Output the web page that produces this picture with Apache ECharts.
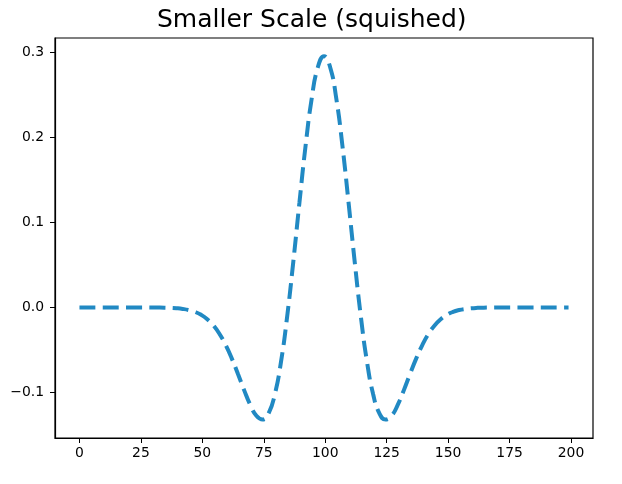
<!DOCTYPE html>
<html>
<head>
<meta charset="utf-8">
<script src="https://cdn.jsdelivr.net/npm/echarts@6/dist/echarts.min.js"></script>
<style>html,body{margin:0;padding:0;background:#fff}#c{width:622px;height:484px}</style>
</head>
<body>
<div id="c"></div>
<script>
const titleText = 'Smaller Scale (squished)';
const xs = [0, 2, 4.5, 7, 9.5, 12, 14.5, 17, 19.5, 22, 24.5, 27, 29.5, 32, 34.5, 37, 39.5, 42, 44.5, 47, 49.5, 52, 54.5, 57, 59.5, 62, 64.5, 67, 69.5, 72, 74.5, 77, 79.5, 82, 84.5, 87, 89.5, 92, 94.5, 97, 99.5, 102, 104.5, 107, 109.5, 112, 114.5, 117, 119.5, 122, 124.5, 127, 129.5, 132, 134.5, 137, 139.5, 142, 144.5, 147, 149.5, 152, 154.5, 157, 159.5, 162, 164.5, 167, 169.5, 172, 174.5, 177, 179.5, 182, 184.5, 187, 189.5, 192, 194.5, 197, 199];
const ys = [0, 0, 0, 0, 0, 0, 0, 0, 0, 0, 0, 0,
  -0.00006, -0.00013, -0.00026, -0.00051, -0.00096, -0.00176, -0.00310, -0.00529, -0.00871, -0.01384, -0.02119, -0.03124, -0.04427, -0.06021, -0.07837, -0.09728, -0.11465, -0.12739, -0.13184, -0.12437, -0.10218, -0.06403, -0.01091, 0.05352, 0.12312, 0.19000, 0.24566, 0.28257,
  0.2955,
  0.28257, 0.24566, 0.19000, 0.12312, 0.05352, -0.01091, -0.06403, -0.10218, -0.12437, -0.13184, -0.12739, -0.11465, -0.09728, -0.07837, -0.06021, -0.04427, -0.03124, -0.02119, -0.01384, -0.00871, -0.00529, -0.00310, -0.00176, -0.00096, -0.00051, -0.00026, -0.00013, -0.00006,
  0, 0, 0, 0, 0, 0, 0, 0, 0, 0, 0, 0];
const xTicks = [0, 25, 50, 75, 100, 125, 150, 175, 200];
const yTicks = [-0.1, 0.0, 0.1, 0.2, 0.3];

const font = 'DejaVu Sans';
const chart = echarts.init(document.getElementById('c'), null, {renderer: 'canvas'});
chart.setOption({
  animation: false,
  backgroundColor: '#fff',
  title: {
    text: titleText,
    left: 152, top: 3,
    textStyle: {fontFamily: font, fontSize: 25, fontWeight: 'normal', color: '#000'}
  },
  grid: {left: 55, right: 29, top: 38, bottom: 46, show: true, borderColor: '#000', borderWidth: 1.2, backgroundColor: 'transparent'},
  xAxis: {
    type: 'value', min: -9.95, max: 208.95,
    axisLine: {show: true, onZero: false, lineStyle: {color: '#000', width: 1.2}},
    axisTick: {show: true, inside: false, length: 5, customValues: xTicks, lineStyle: {color: '#000', width: 1}},
    axisLabel: {customValues: xTicks, margin: 8, color: '#000', fontFamily: font, fontSize: 13.9},
    splitLine: {show: false}
  },
  yAxis: {
    type: 'value', min: -0.1536, max: 0.3169,
    axisLine: {show: true, onZero: false, lineStyle: {color: '#000', width: 1.2}},
    axisTick: {show: true, inside: false, length: 5, customValues: yTicks, lineStyle: {color: '#000', width: 1}},
    axisLabel: {customValues: yTicks, margin: 11, color: '#000', fontFamily: font, fontSize: 13.9,
      formatter: v => v.toFixed(1).replace('-', '\u2212')},
    splitLine: {show: false}
  },
  series: [{
    type: 'line',
    data: xs.map((x, i) => [x, ys[i]]),
    showSymbol: false, symbol: 'none', smooth: 0.5,
    lineStyle: {color: '#2189c3', width: 4, type: [16, 7.3], cap: 'butt'}
  }]
});
</script>
</body>
</html>
